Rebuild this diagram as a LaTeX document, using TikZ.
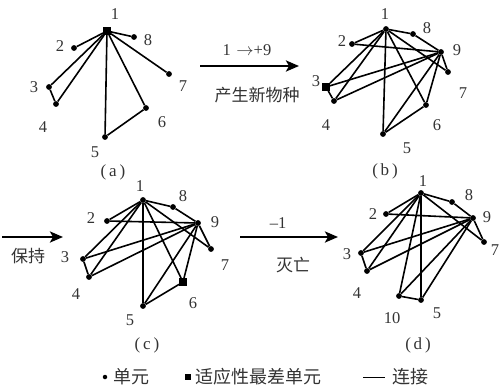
\documentclass[tikz,border=0pt]{standalone}
\usepackage{fontspec}
\setmainfont{Liberation Serif}
\newfontfamily\cjk{Noto Sans CJK SC}
\usetikzlibrary{arrows.meta}
\tikzset{
  dot/.style={circle,fill=black,inner sep=0pt,minimum size=5.8pt},
  worst/.style={rectangle,fill=black,inner sep=0pt,minimum size=7.5pt},
  lbl/.style={inner sep=0pt,font=\fontsize{16.5}{16.5}\selectfont,text=black!80},
  captext/.style={inner sep=0pt,font=\fontsize{17}{17}\selectfont,text=black!80},
  cjkl/.style={inner sep=0pt,font=\cjk\fontsize{17}{17}\selectfont,text=black!80},
  legtext/.style={inner sep=0pt,font=\cjk\fontsize{18}{18}\selectfont,text=black!80},
  edge/.style={line width=1.6pt},
  bigarrow/.style={line width=2.8pt,-{Stealth[length=13pt,width=11pt,inset=3pt]}}
}
\begin{document}
\begin{tikzpicture}[x=1pt,y=-1pt]
\useasboundingbox (0,0) rectangle (500,388);
% ---------- panel (a)
\node[worst] (a1) at (107,31) {};
\node[dot] (a2) at (74,48) {};
\node[dot] (a8) at (134,37) {};
\node[dot] (a7) at (169,74) {};
\node[dot] (a3) at (49,87) {};
\node[dot] (a4) at (56,104) {};
\node[dot] (a6) at (146,108) {};
\node[dot] (a5) at (105,137) {};
\foreach \t in {2,8,7,3,4,5,6} \draw[edge] (a1) -- (a\t);
\draw[edge] (a3) -- (a4);
\draw[edge] (a5) -- (a6);
\node[lbl] (la1) at (115,14) {1};
\node[lbl] (la2) at (60,46) {2};
\node[lbl] (la8) at (148,40) {8};
\node[lbl] (la7) at (183,86) {7};
\node[lbl] (la3) at (34,87) {3};
\node[lbl] (la4) at (43,127) {4};
\node[lbl] (la6) at (162,122) {6};
\node[lbl] (la5) at (95,152) {5};
\node[captext] (capa) at (113,172) {(\,a\,)};
% ---------- arrow a->b
\coordinate (ab0) at (200,66);
\coordinate (ab1) at (299,66);
\draw[bigarrow] (ab0) -- (ab1);
\node[lbl] (tab) at (247,50) {1\,\,$\rightarrow$+9};
\node[cjkl] (tab2) at (257,95) {产生新物种};
% ---------- panel (b)
\node[dot] (b1) at (386,29) {};
\node[dot] (b8) at (413,34) {};
\node[dot] (b2) at (352,44) {};
\node[dot] (b9) at (441,52) {};
\node[dot] (b7) at (448,72) {};
\node[worst] (b3) at (326,87) {};
\node[dot] (b4) at (334,101) {};
\node[dot] (b6) at (426,105) {};
\node[dot] (b5) at (383,134) {};
\foreach \t in {2,8,3,4,5,6,7} \draw[edge] (b1) -- (b\t);
\foreach \t in {8,2,3,4,5,6,7} \draw[edge] (b9) -- (b\t);
\draw[edge] (b3) -- (b4);
\draw[edge] (b5) -- (b6);
\node[lbl] (lb1) at (385,14) {1};
\node[lbl] (lb8) at (427,28) {8};
\node[lbl] (lb2) at (342,41) {2};
\node[lbl] (lb9) at (457,50) {9};
\node[lbl] (lb7) at (463,93) {7};
\node[lbl] (lb3) at (316,81) {3};
\node[lbl] (lb4) at (326,125) {4};
\node[lbl] (lb6) at (437,125) {6};
\node[lbl] (lb5) at (407,148) {5};
\node[captext] (capb) at (385,171) {(\,b\,)};
% ---------- arrow into c
\coordinate (c0) at (2,237);
\coordinate (c1e) at (63,237);
\draw[bigarrow] (c0) -- (c1e);
\node[cjkl] (tc) at (28,256) {保持};
% ---------- panel (c)
\node[dot] (c1) at (143,200) {};
\node[dot] (c8) at (173,207) {};
\node[dot] (c2) at (107,221) {};
\node[dot] (c9) at (198,223) {};
\node[dot] (c7) at (211,249) {};
\node[dot] (c3) at (83,259) {};
\node[dot] (c4) at (89,277) {};
\node[worst] (c6) at (183,282) {};
\node[dot] (c5) at (143,306) {};
\foreach \t in {2,8,3,4,5,6,7} \draw[edge] (c1) -- (c\t);
\foreach \t in {8,2,3,4,5,6,7} \draw[edge] (c9) -- (c\t);
\draw[edge] (c3) -- (c4);
\draw[edge] (c5) -- (c6);
\node[lbl] (lc1) at (140,186) {1};
\node[lbl] (lc8) at (183,196) {8};
\node[lbl] (lc2) at (91,218) {2};
\node[lbl] (lc9) at (215,222) {9};
\node[lbl] (lc7) at (225,265) {7};
\node[lbl] (lc3) at (65,257) {3};
\node[lbl] (lc4) at (76,294) {4};
\node[lbl] (lc6) at (193,303) {6};
\node[lbl] (lc5) at (130,320) {5};
\node[captext] (capc) at (147,345) {(\,c\,)};
% ---------- arrow c->d
\coordinate (cd0) at (240,237);
\coordinate (cd1) at (338,237);
\draw[bigarrow] (cd0) -- (cd1);
\node[lbl] (tcd) at (278,223) {–1};
\node[cjkl] (tcd2) at (293,265) {灭亡};
% ---------- panel (d)
\node[dot] (d1) at (421,193) {};
\node[dot] (d8) at (452,202) {};
\node[dot] (d2) at (386,214) {};
\node[dot] (d9) at (473,218) {};
\node[dot] (d7) at (484,242) {};
\node[dot] (d3) at (361,253) {};
\node[dot] (d4) at (367,271) {};
\node[dot] (d10) at (399,296) {};
\node[dot] (d5) at (421,300) {};
\foreach \t in {2,8,3,4,10,5,7} \draw[edge] (d1) -- (d\t);
\foreach \t in {8,2,3,4,10,5,7} \draw[edge] (d9) -- (d\t);
\draw[edge] (d3) -- (d4);
\draw[edge] (d10) -- (d5);
\node[lbl] (ld1) at (423,181) {1};
\node[lbl] (ld8) at (469,195) {8};
\node[lbl] (ld2) at (373,214) {2};
\node[lbl] (ld9) at (487,217) {9};
\node[lbl] (ld7) at (495,250) {7};
\node[lbl] (ld3) at (347,254) {3};
\node[lbl] (ld4) at (357,293) {4};
\node[lbl] (ld10) at (392,318) {10};
\node[lbl] (ld5) at (437,313) {5};
\node[captext] (capd) at (418,345) {(\,d\,)};
% ---------- legend
\node[dot,minimum size=4.5pt] (k1) at (105,377) {};
\node[legtext,anchor=west] (k1t) at (113,377) {单元};
\node[worst,minimum size=6pt] (k2) at (188,377) {};
\node[legtext,anchor=west] (k2t) at (195,377) {适应性最差单元};
\coordinate (k3a) at (363,377);
\coordinate (k3b) at (385,377);
\draw[line width=1pt] (k3a) -- (k3b);
\node[legtext,anchor=west] (k3t) at (392,377) {连接};
\end{tikzpicture}
\end{document}
